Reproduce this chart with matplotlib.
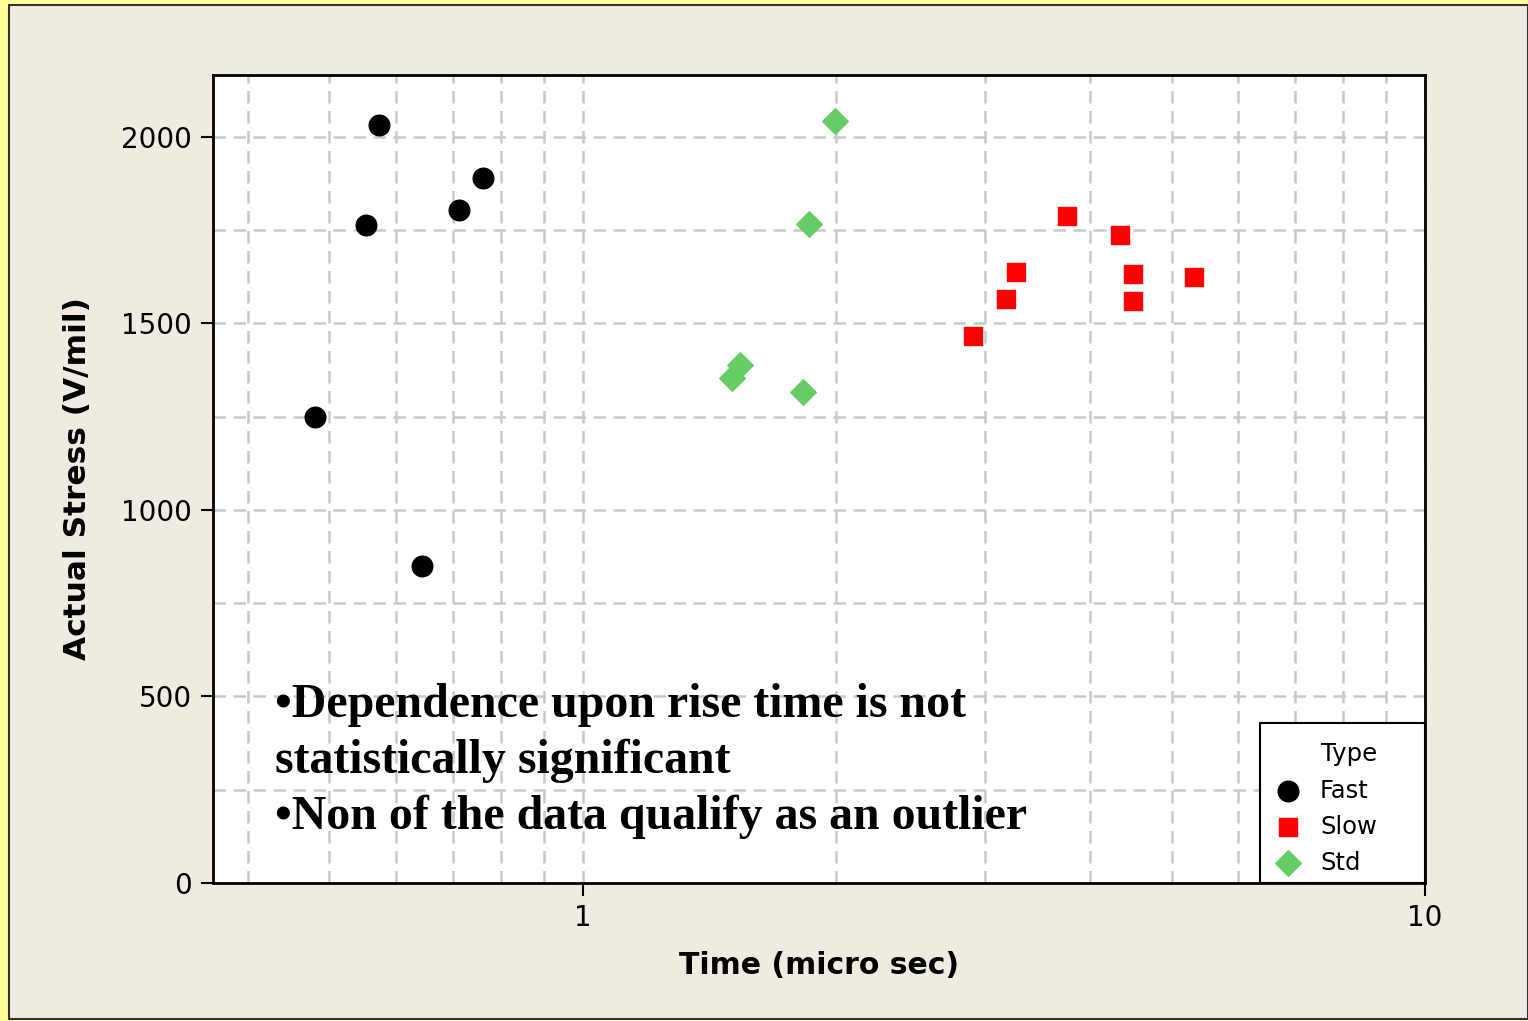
import numpy as np
import matplotlib
matplotlib.use("Agg")
import matplotlib.pyplot as plt
from matplotlib.patches import Rectangle
from matplotlib.ticker import FixedLocator, NullFormatter

# data
fast_t = [0.573, 0.552, 0.480, 0.712, 0.761, 0.644]
fast_v = [2032, 1764, 1249, 1804, 1890, 850]

slow_t = [2.906, 3.180, 3.268, 3.757, 4.343, 4.499, 4.499, 5.318]
slow_v = [1466, 1566, 1638, 1788, 1737, 1633, 1560, 1625]

std_t = [1.992, 1.855, 1.536, 1.503, 1.825]
std_v = [2043, 1767, 1389, 1354, 1316]

xticks = [1, 10]
yticks = [0, 500, 1000, 1500, 2000]
note = ("\u2022Dependence upon rise time is not\n"
        "statistically significant\n"
        "\u2022Non of the data qualify as an outlier")

fig = plt.figure(figsize=(15.28, 10.21), dpi=100)
fig.patch.set_facecolor('#FFFF99')
W, H = 1528.0, 1021.0
fig.patches.append(Rectangle((9/W, 2/H), (W-9)/W, (H-7)/H, transform=fig.transFigure,
                             facecolor='#EFEBE0', edgecolor='#333333', lw=1.5, zorder=-5))

ax = fig.add_axes([213/W, 1-883/H, (1425-213)/W, (883-75)/H])
ax.set_zorder(1)
ax.set_facecolor('white')
ax.set_xscale('log')
ax.set_xlim(0.3636, 10)
ax.set_ylim(0, 2166)

ax.xaxis.set_major_locator(FixedLocator(xticks))
ax.xaxis.set_minor_locator(FixedLocator([0.4, 0.5, 0.6, 0.7, 0.8, 0.9, 2, 3, 4, 5, 6, 7, 8, 9]))
ax.xaxis.set_minor_formatter(NullFormatter())
ax.set_xticklabels(['1', '10'])
ax.yaxis.set_major_locator(FixedLocator(yticks))
ax.yaxis.set_minor_locator(FixedLocator([250, 750, 1250, 1750]))

ax.grid(True, which='both', color='#C8C8C8', linestyle=(0, (5, 3)), lw=1.8)
ax.set_axisbelow(True)
ax.tick_params(which='major', length=9, width=1.5, labelsize=20, colors='black')
ax.tick_params(which='minor', length=0)
ax.tick_params(axis='x', pad=6)
ax.tick_params(axis='y', pad=6)
for s in ax.spines.values():
    s.set_linewidth(2)

ax.scatter(fast_t, fast_v, s=220, marker='o', color='black', label='Fast', zorder=3)
ax.scatter(slow_t, slow_v, s=170, marker='s', color='#FF0000', label='Slow', zorder=3)
ax.scatter(std_t, std_v, s=170, marker='D', color='#66CC66', label='Std', zorder=3)

ax.set_xlabel('Time (micro sec)', fontsize=21.5, fontweight='bold', labelpad=14)
ax.set_ylabel('Actual Stress (V/mil)', fontsize=22.5, fontweight='bold', labelpad=21)

ax.text(0.051, 0.248, note, transform=ax.transAxes, fontsize=34.5, fontweight='bold',
        family='Liberation Serif', va='top', ha='left', linespacing=1.35, zorder=4)

# legend box drawn by hand, it is wider than matplotlib's own frame
ax.add_patch(Rectangle((0.8639, 0.0), 0.1361, 0.198, transform=ax.transAxes,
                       facecolor='white', edgecolor='black', lw=1.5, zorder=5))
leg = ax.legend(title='Type', loc='upper left', bbox_to_anchor=(0.8713, 0.174),
                borderaxespad=0, borderpad=0, fontsize=17.5, title_fontsize=17.5,
                frameon=False, handletextpad=0.5, labelspacing=0.5, handlelength=1.6,
                alignment='right')
leg.set_zorder(6)

fig.savefig('out.png', dpi=100, facecolor=fig.get_facecolor())
